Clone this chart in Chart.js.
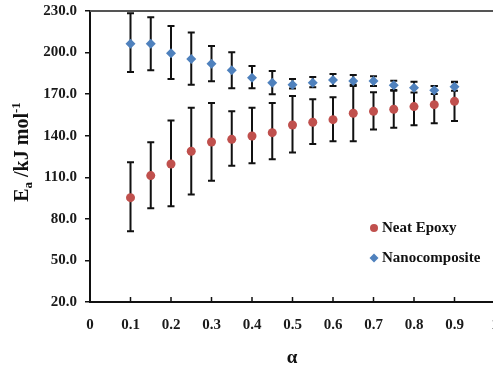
<!DOCTYPE html>
<html>
<head>
<meta charset="utf-8">
<title>Ea vs alpha</title>
<script src="https://cdn.jsdelivr.net/npm/chart.js@4.4.0/dist/chart.umd.min.js"></script>
<style>
    html, body { margin: 0; padding: 0; background: #fff; overflow: hidden; }
    #wrap { width: 499px; height: 367px; position: relative; }
</style>
</head>
<body>
<div id="wrap"><canvas id="chart"></canvas></div>
<script>
// Conversion degree
const alpha = [0.1, 0.15, 0.2, 0.25, 0.3, 0.35, 0.4, 0.45, 0.5, 0.55, 0.6, 0.65, 0.7, 0.75, 0.8, 0.85, 0.9];

// Neat epoxy: Ea and error bar limits (kJ/mol)
const neatEa   = [95.3, 111.2, 119.6, 128.8, 135.5, 137.4, 139.8, 142.2, 147.7, 149.7, 151.6, 156.2, 157.6, 159.1, 161.0, 162.4, 164.8];
const neatHigh = [120.8, 135.3, 150.9, 160.2, 163.6, 157.6, 160.2, 163.6, 168.7, 166.3, 167.7, 176.8, 171.3, 172.4, 174.5, 175.8, 178.5];
const neatLow  = [71.0, 87.6, 89.1, 97.5, 107.5, 118.4, 120.1, 123.0, 127.8, 134.0, 136.0, 136.0, 144.4, 145.8, 147.5, 149.0, 150.6];

// Nanocomposite: Ea and error bar limits (kJ/mol)
const nanoEa   = [206.4, 206.4, 199.5, 195.4, 192.0, 187.2, 181.9, 178.3, 176.8, 178.3, 180.2, 179.5, 179.5, 176.4, 174.7, 172.8, 175.4];
const nanoHigh = [228.3, 225.4, 219.2, 214.4, 204.7, 200.2, 190.3, 186.7, 180.9, 182.4, 184.5, 183.8, 182.9, 179.7, 179.0, 175.9, 179.0];
const nanoLow  = [186.0, 187.2, 181.0, 176.8, 179.3, 174.2, 174.2, 169.9, 174.0, 174.9, 175.9, 175.9, 175.9, 173.0, 171.1, 170.1, 172.5];

// Axis settings
const yMin = 20, yMax = 230, yStep = 30;
const xMin = 0, xMax = 1, xStep = 0.1;

const seriesNames = ['Neat Epoxy', 'Nanocomposite'];
const RED = '#C0504D';
const BLUE = '#4F81BD';
const SERIF = "'Liberation Serif', 'Times New Roman', serif";

function toPoints(ys) {
    return alpha.map((a, i) => ({ x: a, y: ys[i] }));
}

const errorBars = [
    { low: neatLow, high: neatHigh },
    { low: nanoLow, high: nanoHigh }
];

// Draw error bars behind the markers, plus axis extras, legend and titles
const extrasPlugin = {
    id: 'extras',
    beforeDatasetsDraw(chart) {
        const ctx = chart.ctx;
        const xs = chart.scales.x, ys = chart.scales.y;
        ctx.save();
        ctx.strokeStyle = '#111';
        ctx.lineWidth = 2;
        errorBars.forEach(eb => {
            alpha.forEach((a, i) => {
                const px = xs.getPixelForValue(a);
                const top = ys.getPixelForValue(eb.high[i]);
                const bot = ys.getPixelForValue(eb.low[i]);
                ctx.beginPath();
                ctx.moveTo(px, top); ctx.lineTo(px, bot);
                ctx.moveTo(px - 3.5, top); ctx.lineTo(px + 3.5, top);
                ctx.moveTo(px - 3.5, bot); ctx.lineTo(px + 3.5, bot);
                ctx.stroke();
            });
        });
        ctx.restore();
    },
    afterDraw(chart) {
        const ctx = chart.ctx;
        const area = chart.chartArea;
        const xs = chart.scales.x;
        ctx.save();

        // top frame line
        ctx.strokeStyle = '#555';
        ctx.lineWidth = 2;
        ctx.beginPath();
        ctx.moveTo(area.left, area.top);
        ctx.lineTo(chart.width, area.top);
        ctx.stroke();

        // inward tick marks on x axis
        ctx.strokeStyle = '#111';
        ctx.lineWidth = 1.5;
        xs.ticks.forEach(t => {
            if (t.value === 0) return;
            const px = xs.getPixelForValue(t.value);
            ctx.beginPath();
            ctx.moveTo(px, area.bottom);
            ctx.lineTo(px, area.bottom - 5);
            ctx.stroke();
        });

        // legend
        ctx.font = 'bold 15px ' + SERIF;
        ctx.textBaseline = 'middle';
        ctx.textAlign = 'left';
        ctx.fillStyle = RED;
        ctx.beginPath();
        ctx.arc(374, 228, 4, 0, Math.PI * 2);
        ctx.fill();
        ctx.fillStyle = '#111';
        ctx.fillText(seriesNames[0], 382, 228);
        ctx.fillStyle = BLUE;
        ctx.beginPath();
        ctx.moveTo(369.5, 258); ctx.lineTo(374, 253.5); ctx.lineTo(378.5, 258); ctx.lineTo(374, 262.5);
        ctx.closePath();
        ctx.fill();
        ctx.fillStyle = '#111';
        ctx.fillText(seriesNames[1], 382, 258);

        // x title
        ctx.font = 'bold 19px ' + SERIF;
        ctx.textAlign = 'center';
        ctx.fillText('\u03B1', 292, 358);

        // y title: Ea /kJ mol-1 with sub/superscript
        ctx.translate(28, 152);
        ctx.rotate(-Math.PI / 2);
        const big = 'bold 20px ' + SERIF;
        const small = 'bold 13px ' + SERIF;
        const parts = [
            { t: 'E', f: big, dy: 0 },
            { t: 'a', f: small, dy: 4 },
            { t: ' /kJ mol', f: big, dy: 0 },
            { t: '-1', f: small, dy: -8 }
        ];
        let total = 0;
        parts.forEach(p => { ctx.font = p.f; total += ctx.measureText(p.t).width; });
        let cx = -total / 2;
        ctx.textAlign = 'left';
        ctx.textBaseline = 'alphabetic';
        parts.forEach(p => {
            ctx.font = p.f;
            ctx.fillText(p.t, cx, p.dy);
            cx += ctx.measureText(p.t).width;
        });
        ctx.restore();
    }
};

const ctx = document.getElementById('chart').getContext('2d');
new Chart(ctx, {
    type: 'scatter',
    data: {
        datasets: [
            {
                label: seriesNames[0],
                data: toPoints(neatEa),
                pointStyle: 'circle',
                pointRadius: 4.5,
                backgroundColor: RED,
                borderColor: RED,
                borderWidth: 0
            },
            {
                label: seriesNames[1],
                data: toPoints(nanoEa),
                pointStyle: 'rectRot',
                pointRadius: 5,
                backgroundColor: BLUE,
                borderColor: BLUE,
                borderWidth: 0
            }
        ]
    },
    options: {
        responsive: true,
        maintainAspectRatio: false,
        animation: false,
        layout: { autoPadding: false, padding: { top: 11, right: 4, left: 0, bottom: 0 } },
        plugins: {
            legend: { display: false },
            tooltip: { enabled: false }
        },
        scales: {
            x: {
                type: 'linear',
                min: xMin,
                max: xMax,
                grid: { display: false, drawTicks: false },
                border: { display: true, color: '#111', width: 2 },
                ticks: {
                    stepSize: xStep,
                    padding: 14,
                    color: '#1a1a1a',
                    font: { family: SERIF, size: 15, weight: 'bold' },
                    callback: v => Number(v.toFixed(1)).toString()
                },
                afterFit: scale => {
                    scale.height = 65;
                    scale.paddingLeft = 0;
                    scale.paddingRight = 0;
                }
            },
            y: {
                type: 'linear',
                min: yMin,
                max: yMax,
                grid: { drawOnChartArea: false, color: '#111', lineWidth: 1.5, tickLength: 5 },
                border: { display: true, color: '#111', width: 2 },
                ticks: {
                    stepSize: yStep,
                    padding: 8,
                    color: '#1a1a1a',
                    font: { family: SERIF, size: 15, weight: 'bold' },
                    callback: v => v.toFixed(1)
                },
                afterFit: scale => {
                    scale.width = 90;
                    scale.paddingTop = 0;
                    scale.paddingBottom = 0;
                }
            }
        }
    },
    plugins: [extrasPlugin]
});
</script>
</body>
</html>
